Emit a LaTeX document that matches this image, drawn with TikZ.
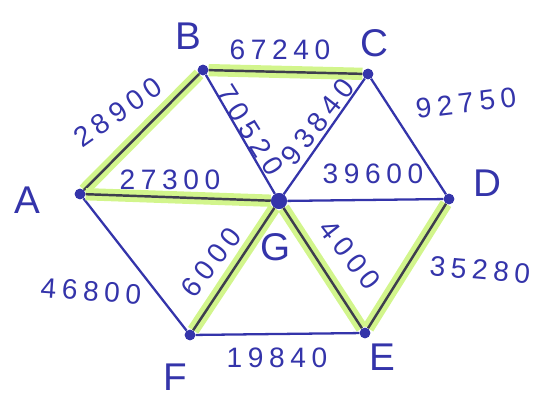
\documentclass[tikz,border=0pt]{standalone}
\usepackage{fontspec}
\setmainfont{Liberation Sans}
\newfontfamily\scrittura[LetterSpace=20]{Liberation Sans}

\definecolor{penna}{RGB}{52,52,170}
\definecolor{grafite}{RGB}{62,62,78}
\definecolor{evidenziatore}{RGB}{210,245,140}

\begin{document}
\begin{tikzpicture}[x=0.02cm, y=-0.02cm]
	% Stili per nodi, archi e pesi
	\tikzset{
		nodo/.style={circle, fill=penna, inner sep=0pt, minimum size=6pt},
		lettera/.style={text=penna, font=\fontsize{22}{22}\selectfont},
		peso/.style={text=penna, inner sep=0pt, font=\scrittura\fontsize{16}{16}\selectfont},
		arco/.style={penna, line width=1.3pt},
		scelto/.style={grafite, line width=1.4pt,
			preaction={draw=evidenziatore, line width=7pt}}
	}
	\useasboundingbox (0,0) rectangle (543,398);

	% Posizionamento nodi (esagono con centro G)
	\node[nodo] (A) at (80,194) {};
	\node[nodo] (B) at (203,70) {};
	\node[nodo] (C) at (368,74) {};
	\node[nodo] (D) at (449,199) {};
	\node[nodo] (E) at (365,333) {};
	\node[nodo] (F) at (190,335) {};
	\node[nodo, minimum size=9pt] (G) at (279,201) {};

	% Nomi dei vertici
	\node[lettera] (lA) at (27,200) {A};
	\node[lettera] (lB) at (188,36) {B};
	\node[lettera] (lC) at (374,43) {C};
	\node[lettera] (lD) at (487,183) {D};
	\node[lettera] (lE) at (382,357) {E};
	\node[lettera] (lF) at (175,377) {F};
	\node[lettera] (lG) at (276,247) {G};

	% Archi non scelti
	\draw[arco] (A) -- (F);
	\draw[arco] (F) -- (E);
	\draw[arco] (B) -- (G);
	\draw[arco] (G) -- (C);
	\draw[arco] (C) -- (D);
	\draw[arco] (G) -- (D);

	% Archi evidenziati
	\draw[scelto] (A) -- (B);
	\draw[scelto] (B) -- (C);
	\draw[scelto] (A) -- (G);
	\draw[scelto] (G) -- (F);
	\draw[scelto] (G) -- (E);
	\draw[scelto] (E) -- (D);
	\node[nodo] at (A) {};
	\node[nodo] at (B) {};
	\node[nodo] at (C) {};
	\node[nodo] at (D) {};
	\node[nodo] at (E) {};
	\node[nodo] at (F) {};
	\node[nodo, minimum size=9pt] at (G) {};

	% Pesi degli archi
	\node[peso, rotate=35] (pAB) at (118,112) {28900};
	\node[peso] (pBC) at (280,50) {67240};
	\node[peso, rotate=-58] (pBG) at (250,130) {70520};
	\node[peso, rotate=52] (pGC) at (318,122) {93840};
	\node[peso, rotate=7] (pCD) at (466,103) {92750};
	\node[peso] (pAG) at (170,180) {27300};
	\node[peso] (pGD) at (373,174) {39600};
	\node[peso, rotate=-4] (pAF) at (91,291) {46800};
	\node[peso, rotate=52] (pGF) at (211,262) {6000};
	\node[peso, rotate=-52] (pGE) at (350,255) {4000};
	\node[peso, rotate=-5] (pED) at (480,270) {35280};
	\node[peso] (pFE) at (277,358) {19840};
\end{tikzpicture}
\end{document}
